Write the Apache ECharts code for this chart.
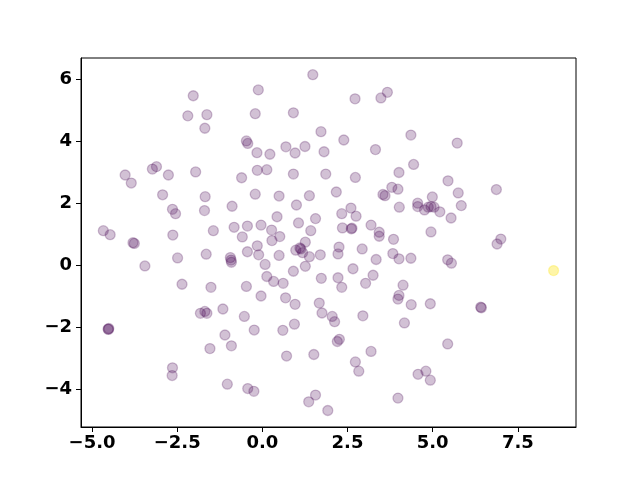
<!DOCTYPE html>
<html>
<head>
<meta charset="utf-8">
<script src="https://cdn.jsdelivr.net/npm/echarts@6/dist/echarts.min.js"></script>
<style>
  html, body { margin: 0; padding: 0; background: #fff; }
  #chart { width: 640px; height: 480px; }
</style>
</head>
<body>
<div id="chart"></div>
<script>
// purple points (class 0)
const purpleX = [
  1.48, -2.03, -2.19, -1.63, -1.69, -0.47, -0.43, -4.03, -3.85, -3.23, -3.11, -2.76, -1.96, -0.61,
  -0.12, 2.72, 3.48, 3.67, -0.21, 0.91, 1.72, -0.16, 0.22, 0.69, 0.96, 1.25, 1.81, 2.39, 3.32,
  4.36, 4.44, 4.01, 2.73, 1.86, 0.91, -0.15, 0.13, 5.72, 5.45,
  -2.93, -1.68, -2.64, -2.55, -1.70, -0.89, -4.67, -4.47, -3.80, -3.76, -2.63, -1.44, -0.83, -0.59,
  -0.44, -3.45, -2.49, -1.65, -0.94, -0.92, -0.91, -0.44, -2.36, -1.51, -0.47,
  -0.21, 0.49, 1.38, 2.17, 3.80, 3.98, 3.54, 3.60, 4.02, 1.00, 2.60, 2.33, 2.75, 0.43, 1.56,
  -0.04, 0.27, 1.06, 1.42, 0.51, 0.28, 2.35, 2.61, 2.63, 3.19, 3.43, 3.43, 3.85,
  -0.15, -0.11, 0.49, 1.26, 0.98, 1.13, 1.10, 1.18, 1.38, 1.70, 2.25, 2.22, 2.93, 3.34, 3.83, 4.01, 4.36,
  0.08, 0.91, 1.26, 2.66, 0.13, 0.33, 0.61, 1.73, 2.22, 2.33, 3.03, 3.25, 4.13,
  -0.04, 0.68, 0.96, 1.67, 4.01, 3.98, 4.37,
  5.75, 6.87, 4.99, 4.56, 4.56, 4.76, 4.87, 4.95, 5.04, 5.21, 5.84, 5.54, 4.95, 7.00, 6.89, 5.44, 5.55,
  4.93, 6.41, 6.43,
  -4.53, -4.51, -4.52, -1.82, -1.69, -1.63, -1.16, -0.53, -1.10, -0.91, -1.54, -2.64, -2.65, -1.03, -0.43,
  -0.24, 0.60, 0.94, 1.75, 2.05, 2.12, 2.95, 4.17, 2.20, 2.26, 0.71, 1.51, 2.73, 2.83, 3.19,
  -0.25, 1.36, 1.56, 1.92, 3.98, 5.44, 4.57, 4.80, 4.93
];
const purpleY = [
  6.15, 5.47, 4.82, 4.86, 4.42, 4.01, 3.93, 2.91, 2.65, 3.10, 3.18, 2.91, 3.01, 2.82,
  5.66, 5.37, 5.40, 5.58, 4.89, 4.92, 4.31, 3.63, 3.58, 3.82, 3.62, 3.83, 3.66, 4.04, 3.73,
  4.20, 3.25, 2.99, 2.83, 2.94, 2.94, 3.06, 3.08, 3.94, 2.72,
  2.27, 2.21, 1.80, 1.66, 1.76, 1.90, 1.11, 0.98, 0.72, 0.70, 0.97, 1.11, 1.22, 0.91,
  1.26, -0.03, 0.23, 0.35, 0.24, 0.16, 0.09, 0.43, -0.62, -0.72, -0.69,
  2.29, 2.23, 2.24, 2.36, 2.51, 2.45, 2.28, 2.24, 1.87, 1.94, 1.84, 1.66, 1.58, 1.56, 1.50,
  1.29, 1.13, 1.36, 1.11, 0.92, 0.79, 1.20, 1.17, 1.19, 1.29, 1.06, 0.93, 0.83,
  0.62, 0.33, 0.31, 0.74, 0.48, 0.52, 0.55, 0.40, 0.27, 0.33, 0.58, 0.36, 0.52, 0.18, 0.37, 0.20, 0.22,
  0.02, -0.20, -0.04, -0.12, -0.37, -0.53, -0.59, -0.43, -0.41, -0.72, -0.59, -0.33, -0.65,
  -1.00, -1.06, -1.27, -1.23, -0.98, -1.10, -1.28,
  2.33, 2.44, 2.20, 2.00, 1.89, 1.78, 1.87, 1.89, 1.87, 1.72, 1.92, 1.52, 1.07, 0.84, 0.68, 0.17, 0.06,
  -1.25, -1.36, -1.38,
  -2.07, -2.05, -2.08, -1.56, -1.50, -1.56, -1.42, -1.66, -2.26, -2.61, -2.70, -3.32, -3.57, -3.85, -3.99,
  -2.10, -2.11, -1.91, -1.55, -1.66, -1.83, -1.64, -1.87, -2.47, -2.40, -2.94, -2.89, -3.13, -3.43, -2.79,
  -4.08, -4.42, -4.20, -4.70, -4.30, -2.55, -3.53, -3.43, -3.72
];
// yellow point (class 1)
const yellowX = [8.55];
const yellowY = [-0.18];

const xTicks = [-5, -2.5, 0, 2.5, 5, 7.5];
const yTicks = [-4, -2, 0, 2, 4, 6];

const chart = echarts.init(document.getElementById('chart'));

const fmtX = v => (v < 0 ? '\u2212' : '') + Math.abs(v).toFixed(1);
const fmtY = v => (v < 0 ? '\u2212' : '') + Math.abs(v).toFixed(0);

const labelStyle = {
    color: '#000',
    fontFamily: 'DejaVu Sans',
    fontWeight: 'bold',
    fontSize: 18,
};

const option = {
    animation: false,
    grid: {
        left: 81, right: 64, top: 58, bottom: 53,
        show: true, borderColor: '#000', borderWidth: 1,
    },
    xAxis: {
        type: 'value',
        min: -5.326, max: 9.208,
        splitLine: {show: false},
        axisLine: {show: true, onZero: false, lineStyle: {color: '#000'}},
        axisTick: {show: true, length: 5, customValues: xTicks, lineStyle: {color: '#000'}},
        axisLabel: Object.assign({margin: 7, customValues: xTicks, formatter: fmtX}, labelStyle),
    },
    yAxis: {
        type: 'value',
        min: -5.233, max: 6.69,
        splitLine: {show: false},
        axisLine: {show: true, onZero: false, lineStyle: {color: '#000'}},
        axisTick: {show: true, length: 5, customValues: yTicks, lineStyle: {color: '#000'}},
        axisLabel: Object.assign({margin: 9, customValues: yTicks, formatter: fmtY}, labelStyle),
    },
    series: [
        {
            type: 'scatter',
            symbolSize: 10,
            data: purpleX.map((x, i) => [x, purpleY[i]]),
            itemStyle: {
                color: 'rgba(68,1,84,0.3)',
                borderColor: 'rgba(68,1,84,0.3)',
                borderWidth: 1.3,
            },
        },
        {
            type: 'scatter',
            symbolSize: 10,
            data: yellowX.map((x, i) => [x, yellowY[i]]),
            itemStyle: {
                color: 'rgba(253,231,37,0.5)',
                borderColor: 'rgba(253,231,37,0.4)',
                borderWidth: 1.3,
            },
        },
    ],
};

chart.setOption(option);
</script>
</body>
</html>
